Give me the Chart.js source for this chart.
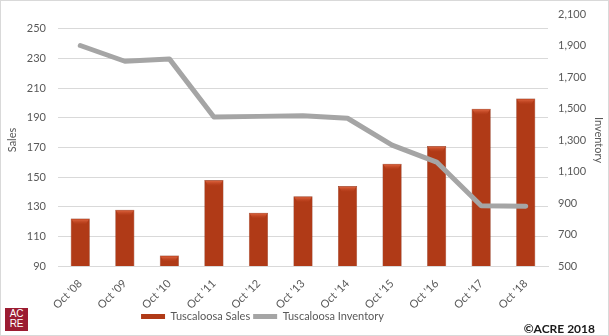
<!DOCTYPE html>
<html>
<head>
<meta charset="utf-8">
<script src="https://cdn.jsdelivr.net/npm/chart.js@4.4.1/dist/chart.umd.min.js"></script>
<style>
  html, body { margin:0; padding:0; background:#fff; }
  #wrap { position:relative; width:609px; height:336px; overflow:hidden; }
  #c { position:absolute; left:0; top:0; }
  #frame { position:absolute; left:0; top:0; width:609px; height:336px; box-sizing:border-box; border:1px solid #d9d9d9; pointer-events:none; }
  #logo { position:absolute; left:5px; top:308px; width:23px; height:23px; background:#9C1C32; color:#fff;
          font-family:"Liberation Sans", Arial, sans-serif; font-size:10px; line-height:10px; text-align:center; padding-top:1px; box-sizing:border-box; letter-spacing:-0.3px; }
  #copy { position:absolute; right:14px; top:321px; font-family:Lato, "Liberation Sans", sans-serif; font-weight:bold; font-size:12px; color:#1a1a1a; }
</style>
</head>
<body>
<div id="wrap">
  <canvas id="c" width="609" height="336"></canvas>
  <div id="logo">AC<br>RE</div>
  <div id="copy">©ACRE 2018</div>
  <div id="frame"></div>
</div>
<script>
const categories = ["Oct '08","Oct '09","Oct '10","Oct '11","Oct '12","Oct '13","Oct '14","Oct '15","Oct '16","Oct '17","Oct '18"];
const salesValues = [122, 128, 97, 148, 126, 137, 144, 159, 171, 196, 203];
const inventoryValues = [1900, 1800, 1815, 1446, 1450, 1454, 1438, 1268, 1160, 882, 880];
const salesTicks = [90, 110, 130, 150, 170, 190, 210, 230, 250];
const inventoryTicks = [500, 700, 900, 1100, 1300, 1500, 1700, 1900, 2100];

const FONT = 'Lato, "Liberation Sans", Arial, sans-serif';
const FS = 11;
const TXT = '#595959';

function barFill(ctx) {
  const chart = ctx.chart;
  const el = ctx.element;
  if (!el || el.width === undefined || !isFinite(el.x)) return '#B03A17';
  const w = el.width;
  const g = chart.ctx.createLinearGradient(el.x - w / 2, 0, el.x + w / 2, 0);
  g.addColorStop(0, '#8A2A10');
  g.addColorStop(0.15, '#B23B18');
  g.addColorStop(0.85, '#B23B18');
  g.addColorStop(1, '#8A2A10');
  return g;
}

const capPlugin = {
  id: 'cap',
  afterLayout(chart) {
    const lg = chart.legend;
    if (lg) { const w = 525 - lg.left; lg.right = lg.left + w; lg.width = w; }
  },
  afterDatasetDraw(chart, args) {
    if (args.index !== 0) return;
    const ctx = chart.ctx;
    const meta = args.meta;
    ctx.save();
    meta.data.forEach(b => {
      const w = b.width, x0 = b.x - w / 2, x1 = b.x + w / 2, y = b.y;
      const g = ctx.createLinearGradient(0, y, 0, y + 6);
      g.addColorStop(0, '#E8704A');
      g.addColorStop(1, 'rgba(200,70,35,0)');
      ctx.fillStyle = g;
      ctx.beginPath();
      ctx.moveTo(x0 + 1, y + 1);
      ctx.lineTo(x1 - 1, y + 1);
      ctx.lineTo(x1 - 4, y + 6);
      ctx.lineTo(x0 + 4, y + 6);
      ctx.closePath();
      ctx.fill();
    });
    ctx.restore();
  }
};

function noPad(s) { s.paddingTop = 0; s.paddingBottom = 0; }

new Chart(document.getElementById('c'), {
  data: {
    labels: categories,
    datasets: [
      {
        type: 'bar',
        label: 'Tuscaloosa Sales',
        data: salesValues,
        yAxisID: 'y',
        backgroundColor: barFill,
        borderColor: '#7E260E',
        borderWidth: 0.5,
        categoryPercentage: 1,
        barPercentage: 0.43,
        order: 1
      },
      {
        type: 'line',
        label: 'Tuscaloosa Inventory',
        data: inventoryValues,
        yAxisID: 'y1',
        borderColor: '#A5A5A5',
        backgroundColor: '#A5A5A5',
        borderWidth: 5,
        pointRadius: 0,
        tension: 0,
        borderCapStyle: 'round',
        borderJoinStyle: 'round',
        order: 0
      }
    ]
  },
  options: {
    responsive: false,
    animation: false,
    layout: { padding: { top: 14, left: 0, right: 0, bottom: 4 } },
    plugins: {
      tooltip: { enabled: false },
      legend: {
        position: 'bottom',
        labels: {
          font: { family: FONT, size: FS },
          color: TXT,
          boxWidth: 24,
          boxHeight: 5,
          padding: 3,
          generateLabels(chart) {
            return chart.data.datasets.map((d, i) => ({
              text: d.label,
              fillStyle: i === 0 ? '#B03A17' : '#A5A5A5',
              strokeStyle: i === 0 ? '#8A2A10' : '#A5A5A5',
              lineWidth: 0,
              fontColor: TXT,
              datasetIndex: i
            }));
          }
        }
      }
    },
    scales: {
      x: {
        grid: { display: false },
        border: { color: '#d9d9d9' },
        ticks: { font: { family: FONT, size: FS }, color: TXT, maxRotation: 45, minRotation: 45, padding: 3 },
        afterFit(s) { s.height = 42; s.paddingLeft = 0; s.paddingRight = 0; }
      },
      y: {
        position: 'left',
        min: 90, max: 260,
        grid: { color: '#d9d9d9', drawTicks: false },
        border: { display: false },
        afterBuildTicks(s) { s.ticks = salesTicks.map(v => ({ value: v })); },
        ticks: { font: { family: FONT, size: FS }, color: TXT, padding: 12 },
        title: { display: true, text: 'Sales', font: { family: FONT, size: FS }, color: TXT, padding: { top: 6, bottom: 0 } },
        afterFit(s) { s.width = 58; noPad(s); }
      },
      y1: {
        position: 'right',
        min: 500, max: 2100,
        grid: { display: false, drawTicks: false },
        border: { display: false },
        afterBuildTicks(s) { s.ticks = inventoryTicks.map(v => ({ value: v })); },
        ticks: { font: { family: FONT, size: FS }, color: TXT, padding: 10,
                 callback: v => v.toLocaleString('en-US') },
        title: { display: true, text: 'Inventory', font: { family: FONT, size: FS }, color: TXT, padding: { top: 4, bottom: 0 } },
        afterFit(s) { s.width = 61; noPad(s); }
      }
    }
  },
  plugins: [capPlugin]
});
</script>
</body>
</html>
